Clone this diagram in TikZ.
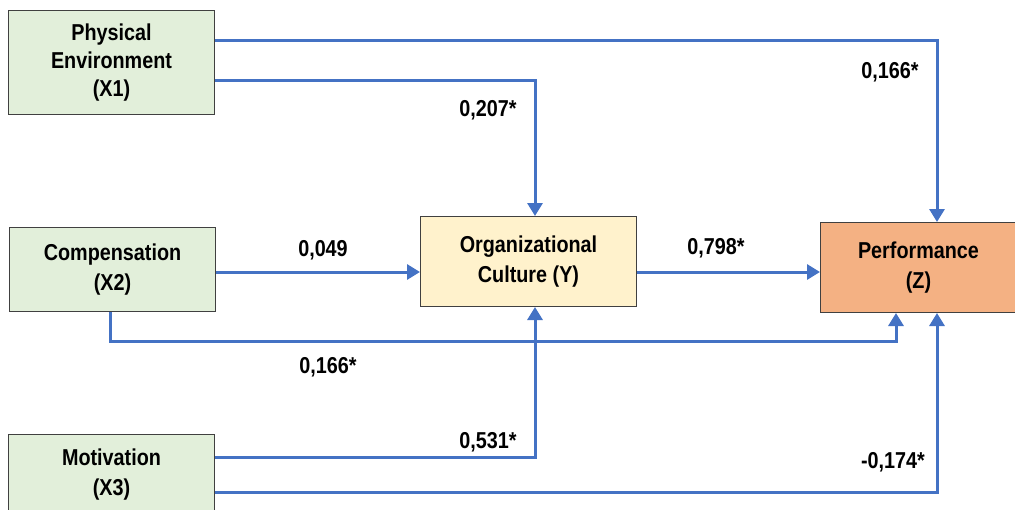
\documentclass[tikz,border=0pt]{standalone}
\usepackage{fontspec}
\setmainfont{Liberation Sans}[FakeStretch=0.86]
\usetikzlibrary{arrows.meta}
\definecolor{linkblue}{HTML}{4472C4}
\definecolor{boxgreen}{HTML}{E2EFDA}
\definecolor{boxyellow}{HTML}{FFF2CC}
\definecolor{boxorange}{HTML}{F4B183}
\definecolor{boxline}{HTML}{404040}
\begin{document}
\begin{tikzpicture}[x=1pt,y=-1pt,
  box/.style={draw=boxline,line width=1pt,align=center,inner sep=0pt,anchor=north west,
    font=\bfseries\fontsize{23}{28}\selectfont},
  twoline/.style={font=\bfseries\fontsize{23}{30.5}\selectfont},
  link/.style={draw=linkblue,line width=3pt,line join=miter,-{Triangle[width=15pt,length=13pt]}},
  lbl/.style={font=\bfseries\fontsize{23}{28}\selectfont,inner sep=0pt}
]
\useasboundingbox (0,0) rectangle (1015,509);
% boxes
\node[box,fill=boxgreen,minimum width=206pt,minimum height=104pt] (x1) at (8,10) {Physical\\Environment\\(X1)};
\node[box,twoline,fill=boxgreen,minimum width=206pt,minimum height=84pt] (x2) at (9,227) {Compensation\\(X2)};
\node[box,twoline,fill=boxgreen,minimum width=206pt,minimum height=80pt] (x3) at (8,434) {Motivation\\(X3)};
\node[box,twoline,fill=boxyellow,minimum width=216pt,minimum height=90pt] (y) at (420,216) {Organizational\\Culture (Y)};
\node[box,twoline,fill=boxorange,minimum width=196pt,minimum height=90pt] (z) at (820,222) {Performance\\(Z)};
% bend points
\coordinate (c1) at (937,40);
\coordinate (c2) at (535,80);
\coordinate (c3) at (0,272);
\coordinate (c4) at (110,341);
\coordinate (c5) at (896,341);
\coordinate (c6) at (535,457);
\coordinate (c7) at (937,492);
% connectors
\draw[link] (x1.east |- c1) -- (c1) -- (c1 |- z.north);
\draw[link] (x1.east |- c2) -- (c2) -- (c2 |- y.north);
\draw[link] (x2.east |- c3) -- (y.west |- c3);
\draw[link] (y.east |- c3) -- (z.west |- c3);
\draw[link] (c4 |- x2.south) -- (c4) -- (c5) -- (c5 |- z.south);
\draw[link] (x3.east |- c6) -- (c6) -- (c6 |- y.south);
\draw[link] (x3.east |- c7) -- (c7) -- (c7 |- z.south);
% labels
\node[lbl] (l1) at (890,72) {0,166*};
\node[lbl] (l2) at (488,110) {0,207*};
\node[lbl] (l3) at (323,250) {0,049};
\node[lbl] (l4) at (716,248) {0,798*};
\node[lbl] (l5) at (328,367) {0,166*};
\node[lbl] (l6) at (488,442) {0,531*};
\node[lbl] (l7) at (893,462) {-0,174*};
\end{tikzpicture}
\end{document}
